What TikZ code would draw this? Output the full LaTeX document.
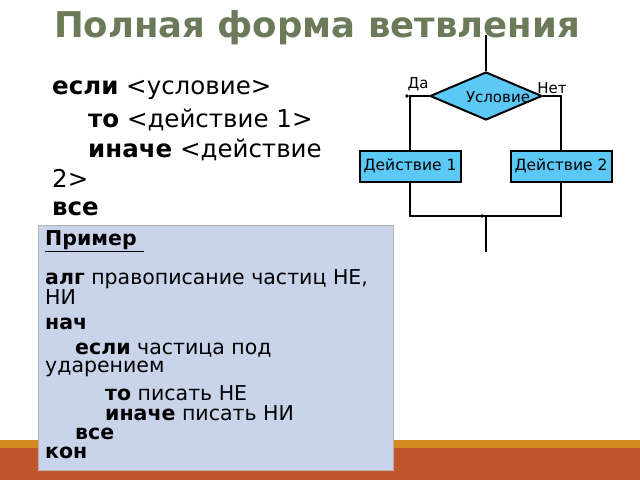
\documentclass[tikz,border=0pt]{standalone}
\usepackage{fontspec}
\setmainfont{DejaVu Sans}
\usetikzlibrary{shapes.geometric}
\definecolor{ttl}{HTML}{6B7A58}
\definecolor{fillb}{HTML}{5BC8F5}
\definecolor{pan}{HTML}{C9D4EA}
\definecolor{org}{HTML}{C0562B}
\begin{document}
\begin{tikzpicture}[x=1pt,y=-1pt,
 ln/.style={line width=1.6pt},
 blk/.style={draw,line width=2pt,fill=fillb,minimum width=101pt,minimum height=31pt,inner sep=0pt,font=\fontsize{15.5}{15.5}\selectfont},
 txt/.style={anchor=west,inner sep=0pt,font=\fontsize{24.5}{26}\selectfont},
 ptx/.style={anchor=west,inner sep=0pt,font=\fontsize{20.5}{21}\selectfont}]
\useasboundingbox (0,0) rectangle (640,480);
\fill[org] (0,448) rectangle (640,480);
\fill[org!70!yellow] (0,440) rectangle (640,448);
\node[font=\bfseries\fontsize{35.5}{35.5}\selectfont,text=ttl] (t) at (317,28) {Полная форма ветвления};
\node[txt] (a1) at (52,90) {\textbf{если} <условие>};
\node[txt] (a2) at (88,120) {\textbf{то} <действие 1>};
\node[txt] (a3) at (88,150) {\textbf{иначе} <действие};
\node[txt] (a4) at (52,178) {2>};
\node[txt] (a5) at (52,209) {\textbf{все}};
% flowchart
\node[diamond,draw,line width=2pt,fill=fillb,minimum width=112pt,minimum height=48pt,inner sep=0pt,aspect=2.33] (d) at (486,96) {};
\node[font=\fontsize{15}{15}\selectfont] (dl) at (498,97) {Условие};
\node[blk] (b1) at (410,166) {Действие 1};
\node[blk] (b2) at (561,166) {Действие 2};
\node[font=\fontsize{15}{15}\selectfont] (da) at (418,84) {Да};
\node[font=\fontsize{15}{15}\selectfont] (ne) at (552,88) {Нет};
\coordinate (top) at (486,35);
\coordinate (j) at (486,216);
\coordinate (bot) at (486,252);
\draw[ln] (top) -- (d.north);
\draw[ln] (d.west) -| (b1.north);
\fill (d.west)++(-22,0) circle (1.8);
\draw[ln] (d.east) -| (b2.north);
\draw[ln] (b1.south) |- (j) -| (b2.south);
\fill (j)++(-4,0) circle (1.8);
\draw[ln] (j) -- (bot);
% panel
\fill[pan] (38,225) rectangle (393,470);
\draw[gray!60] (38,225) rectangle (393,470);
\node[ptx] (p0) at (45,241) {\textbf{\underline{Пример\ }}};
\node[ptx] (p1) at (45,279) {\textbf{алг} правописание частиц НЕ,};
\node[ptx] (p2) at (45,297) {НИ};
\node[ptx] (p3) at (45,324) {\textbf{нач}};
\node[ptx] (p4) at (75,350) {\textbf{если} частица под};
\node[ptx] (p5) at (45,369) {ударением};
\node[ptx] (p6) at (105,393) {\textbf{то} писать НЕ};
\node[ptx] (p7) at (105,413) {\textbf{иначе} писать НИ};
\node[ptx] (p8) at (75,434) {\textbf{все}};
\node[ptx] (p9) at (45,453) {\textbf{кон}};
\end{tikzpicture}
\end{document}
